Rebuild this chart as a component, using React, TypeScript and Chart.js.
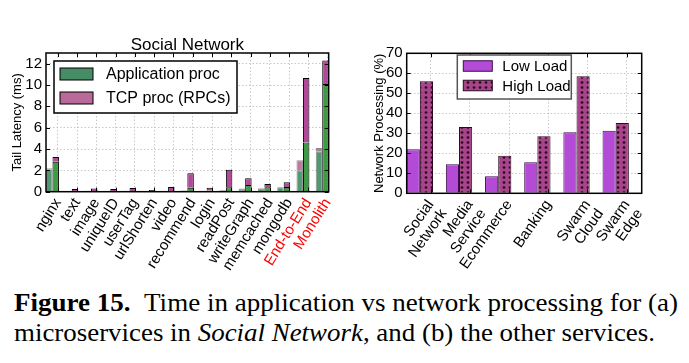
import React, { useEffect, useLayoutEffect, useRef } from 'react';
import { Chart, registerables } from 'chart.js';
Chart.register(...registerables);

// ---------- data: left chart (Social Network microservices) ----------
const services = ['nginx', 'text', 'image', 'uniqueID', 'userTag', 'urlShorten', 'video', 'recommend', 'login', 'readPost', 'writeGraph', 'memcached', 'mongodb', 'End-to-End', 'Monolith'];
const appLow = [2.1, 0.03, 0.05, 0.03, 0.05, 0.03, 0.03, 0.08, 0.05, 0.08, 0.15, 0.3, 0.42, 2.0, 3.8];
const tcpLow = [0.1, 0.03, 0.05, 0.02, 0.05, 0.02, 0.02, 0.05, 0.05, 0.07, 0.14, 0.08, 0.05, 0.94, 0.3];
const appHigh = [2.8, 0.03, 0.05, 0.03, 0.05, 0.03, 0.05, 0.38, 0.12, 0.42, 0.63, 0.42, 0.45, 4.6, 10.1];
const tcpHigh = [0.46, 0.22, 0.25, 0.22, 0.3, 0.12, 0.4, 1.36, 0.26, 1.64, 0.64, 0.31, 0.44, 6.05, 2.2];
const latencyTicks = [0, 2, 4, 6, 8, 10, 12];

// ---------- data: right chart (other services) ----------
const appsLabels: (string | string[])[] = [['Social', 'Network'], ['Media', 'Service'], 'Ecommerce', 'Banking', ['Swarm', 'Cloud'], ['Swarm', 'Edge']];
const lowLoad = [22, 14.5, 8.5, 15.5, 30.5, 31.3];
const highLoad = [56, 33.2, 18.8, 28.5, 58.5, 35.2];
const pctTicks = [0, 10, 20, 30, 40, 50, 60, 70];

const FONT = 'Arial, "Liberation Sans", Helvetica, sans-serif';
const TICK_SHIFT = 0.28;
const HALF = 0.336;

function makeDotPattern(bg: string) {
  const c = document.createElement('canvas');
  c.width = 6;
  c.height = 5;
  const ctx = c.getContext('2d')!;
  ctx.fillStyle = bg;
  ctx.fillRect(0, 0, 6, 5);
  ctx.fillStyle = '#220a18';
  ctx.beginPath();
  ctx.arc(3, 2.5, 1.35, 0, Math.PI * 2);
  ctx.fill();
  return ctx.createPattern(c, 'repeat')!;
}

type LegendItem = { label: string; fill: any; stroke: string };
function framePlugin(cfg: {
  title?: string;
  legend: { dx: number; dy: number; w: number; h: number; items: LegendItem[]; sw: number; sh: number; swX: number; textX: number; rows: number[]; border: string; fontSize: number };
}) {
  return {
    id: 'frameAndLegend',
    afterDraw(chart: any) {
      const { ctx, chartArea: a, scales } = chart;
      ctx.save();
      ctx.strokeStyle = '#000';
      ctx.lineWidth = 1;
      const line = (x1: number, y1: number, x2: number, y2: number) => {
        ctx.beginPath();
        ctx.moveTo(x1, y1);
        ctx.lineTo(x2, y2);
        ctx.stroke();
      };
      for (const t of scales.y.ticks) {
        const py = Math.round(scales.y.getPixelForValue(t.value)) + 0.5;
        line(a.left, py, a.left + 4, py);
        line(a.right - 4, py, a.right, py);
      }
      for (const t of scales.x.ticks) {
        const px = Math.round(scales.x.getPixelForValue(t.value)) + 0.5;
        line(px, a.top, px, a.top + 4);
        line(px, a.bottom - 4, px, a.bottom);
      }
      ctx.lineWidth = 1.5;
      ctx.strokeRect(a.left, a.top, a.right - a.left, a.bottom - a.top);

      if (cfg.title) {
        ctx.fillStyle = '#000';
        ctx.font = `17px ${FONT}`;
        ctx.textAlign = 'center';
        ctx.textBaseline = 'middle';
        ctx.fillText(cfg.title, (a.left + a.right) / 2, a.top - 8);
      }

      const L = cfg.legend;
      const lx = a.left + L.dx;
      const ly = a.top + L.dy;
      ctx.fillStyle = '#fff';
      ctx.fillRect(lx, ly, L.w, L.h);
      ctx.lineWidth = 1.5;
      ctx.strokeStyle = L.border;
      ctx.strokeRect(lx, ly, L.w, L.h);
      L.items.forEach((it, i) => {
        const cy = ly + L.rows[i];
        ctx.fillStyle = it.fill;
        ctx.fillRect(lx + L.swX, cy - L.sh / 2, L.sw, L.sh);
        ctx.lineWidth = 1;
        ctx.strokeStyle = it.stroke;
        ctx.strokeRect(lx + L.swX, cy - L.sh / 2, L.sw, L.sh);
        ctx.fillStyle = '#000';
        ctx.font = `${L.fontSize}px ${FONT}`;
        ctx.textAlign = 'left';
        ctx.textBaseline = 'middle';
        ctx.fillText(it.label, lx + L.textX, cy + 1);
      });
      ctx.restore();
    },
  };
}

function xScale(labels: (string | string[])[], min: number, max: number, height: number, fontSize: number, rot: number, red?: (i: number) => boolean) {
  return {
    type: 'linear' as const,
    min,
    max,
    offset: false,
    grid: { display: true, color: '#c8c8c8', drawTicks: false, offset: false },
    border: { display: false, dash: [1.5, 2] },
    afterBuildTicks: (scale: any) => {
      scale.ticks = labels.map((_, i) => ({ value: i + TICK_SHIFT }));
    },
    afterFit: (scale: any) => {
      scale.height = height;
    },
    ticks: {
      autoSkip: false,
      maxRotation: rot,
      minRotation: rot,
      padding: 4,
      font: { family: FONT, size: fontSize, lineHeight: 1.05 },
      color: (c: any) => (red && red(c.index) ? '#ff0000' : '#000'),
      callback: (_v: any, i: number) => labels[i],
    },
  };
}

function yScale(opts: { max: number; step: number; width: number; title: string; titlePad: number; stacked: boolean; ticks: number[] }) {
  return {
    type: 'linear' as const,
    min: 0,
    max: opts.max,
    stacked: opts.stacked,
    grid: { color: '#c8c8c8', drawTicks: false },
    border: { display: false, dash: [1.5, 2] },
    afterFit: (scale: any) => {
      scale.width = opts.width;
    },
    afterBuildTicks: (s: any) => {
      s.ticks = opts.ticks.map((v) => ({ value: v }));
    },
    title: { display: true, text: opts.title, color: '#000', font: { family: FONT, size: 13 }, padding: { top: opts.titlePad, bottom: 0 } },
    ticks: { autoSkip: false, stepSize: opts.step, includeBounds: false, padding: 4, color: '#000', font: { family: FONT, size: 15 } },
  };
}

function Caption() {
  const l1 = useRef<HTMLSpanElement>(null);
  const l2 = useRef<HTMLSpanElement>(null);
  useLayoutEffect(() => {
    const fit = (el: HTMLSpanElement | null, target: number) => {
      if (!el) return;
      el.style.transform = 'none';
      const w = el.getBoundingClientRect().width;
      if (w > 0) el.style.transform = `scaleX(${target / w})`;
    };
    fit(l1.current, 664);
    fit(l2.current, 641);
  }, []);
  const lineStyle: React.CSSProperties = { display: 'inline-block', whiteSpace: 'nowrap', transformOrigin: 'left center' };
  return (
    <div style={{ position: 'absolute', left: 14, top: 288, fontFamily: '"Liberation Serif", "Times New Roman", serif', fontSize: 25, lineHeight: '30px', color: '#000' }}>
      <div>
        <span ref={l1} style={lineStyle}>
          <b>Figure 15.</b>&nbsp;&nbsp;Time in application vs network processing for (a)
        </span>
      </div>
      <div>
        <span ref={l2} style={lineStyle}>
          microservices in <i>Social Network</i>, and (b) the other services.
        </span>
      </div>
    </div>
  );
}

export default function App() {
  const leftRef = useRef<HTMLCanvasElement>(null);
  const rightRef = useRef<HTMLCanvasElement>(null);

  useEffect(() => {
    const pt = (arr: number[]) => arr.map((y, i) => ({ x: i, y }));

    const greenLight = '#4f9872';
    const greenDark = '#3f9a45';
    const pinkLight = '#c275a2';
    const pinkDark = '#b3479a';

    const left = new Chart(leftRef.current!, {
      type: 'bar',
      data: {
        datasets: [
          { label: 'app-low', data: pt(appLow), stack: 'a', backgroundColor: greenLight, borderColor: 'rgba(0,0,0,0.45)', borderWidth: 1 },
          { label: 'tcp-low', data: pt(tcpLow), stack: 'a', backgroundColor: pinkLight, borderColor: 'rgba(0,0,0,0.45)', borderWidth: 1 },
          { label: 'app-high', data: pt(appHigh), stack: 'b', backgroundColor: greenDark, borderColor: '#000', borderWidth: 1 },
          { label: 'tcp-high', data: pt(tcpHigh), stack: 'b', backgroundColor: pinkDark, borderColor: '#000', borderWidth: 1 },
        ],
      } as any,
      options: {
        responsive: false,
        animation: false,
        layout: { padding: { top: 53, right: 9, left: 0, bottom: 0 } },
        datasets: { bar: { categoryPercentage: HALF * 2, barPercentage: 1 } },
        plugins: { legend: { display: false }, tooltip: { enabled: false } },
        scales: {
          x: xScale(services, -HALF, services.length - 1 + HALF, 83.3, 15, 58, (i) => i >= 13) as any,
          y: yScale({ max: 13, step: 2, width: 46, title: 'Tail Latency (ms)', titlePad: 10, stacked: true, ticks: latencyTicks }) as any,
        },
      },
      plugins: [
        framePlugin({
          title: 'Social Network',
          legend: {
            dx: 8, dy: 8, w: 183, h: 52, sw: 33, sh: 12, swX: 6, textX: 52, rows: [13, 37], border: '#000', fontSize: 16,
            items: [
              { label: 'Application proc', fill: '#468c64', stroke: '#000' },
              { label: 'TCP proc (RPCs)', fill: '#b96a98', stroke: '#000' },
            ],
          },
        }) as any,
      ],
    });

    const purple = '#b44bd7';
    const dotted = makeDotPattern('#a9448c');

    const right = new Chart(rightRef.current!, {
      type: 'bar',
      data: {
        datasets: [
          { label: 'Low Load', data: pt(lowLoad), backgroundColor: purple, borderColor: '#3a1048', borderWidth: 1 },
          { label: 'High Load', data: pt(highLoad), backgroundColor: dotted, borderColor: '#2a0a20', borderWidth: 1 },
        ],
      } as any,
      options: {
        responsive: false,
        animation: false,
        layout: { padding: { top: 53.3, right: 47.3, left: 0, bottom: 0 } },
        datasets: { bar: { categoryPercentage: HALF * 2, barPercentage: 1 } },
        plugins: { legend: { display: false }, tooltip: { enabled: false } },
        scales: {
          x: xScale(appsLabels, -HALF, appsLabels.length - HALF, 81.7, 15, 55) as any,
          y: yScale({ max: 70, step: 10, width: 61.7, title: 'Network Processing (%)', titlePad: 27, stacked: false, ticks: pctTicks }) as any,
        },
      },
      plugins: [
        framePlugin({
          legend: {
            dx: 50.6, dy: 1.7, w: 114, h: 44, sw: 29, sh: 10.5, swX: 6, textX: 45, rows: [11, 30.5], border: '#555', fontSize: 15,
            items: [
              { label: 'Low Load', fill: purple, stroke: '#3a1048' },
              { label: 'High Load', fill: dotted, stroke: '#2a0a20' },
            ],
          },
        }) as any,
      ],
    });

    return () => {
      left.destroy();
      right.destroy();
    };
  }, []);

  return (
    <div style={{ position: 'fixed', left: 0, top: 0, width: 689, height: 363, background: '#fff', overflow: 'hidden' }}>
      <canvas ref={leftRef} width={345} height={275} style={{ position: 'absolute', left: 0, top: 0 }} />
      <canvas ref={rightRef} width={344} height={275} style={{ position: 'absolute', left: 345, top: 0 }} />
      <Caption />
    </div>
  );
}
